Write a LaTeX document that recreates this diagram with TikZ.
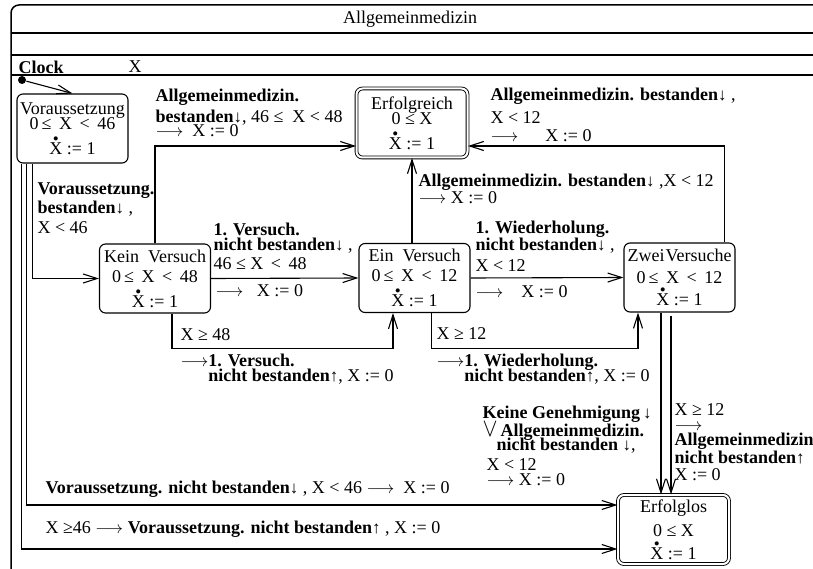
\documentclass[tikz,border=0pt]{standalone}
\usepackage{fontspec}
\setmainfont{Liberation Serif}
\usetikzlibrary{arrows.meta}

\newcommand{\arrdn}{\raisebox{0pt}{\fontsize{17}{17}\mdseries\selectfont ↓}}
\newcommand{\arrup}{\raisebox{0pt}{\fontsize{17}{17}\mdseries\selectfont ↑}}
\newcommand{\Xd}{\ooalign{X\cr\hidewidth\smash{\raisebox{10pt}{\fontsize{17}{17}\selectfont\textbullet}}\hidewidth\cr}}
\newcommand{\lto}{$\longrightarrow$}

\begin{document}
\begin{tikzpicture}[x=1pt,y=-1pt,line width=1.1pt,
    >={Straight Barb[length=14pt,width=9pt]},
    every node/.style={font=\fontsize{18}{16}\selectfont},
    state/.style={draw,rounded corners=6pt,minimum width=111pt,minimum height=69pt,
      inner sep=0pt,align=center,font=\fontsize{18}{18}\selectfont},
    final/.style={state,double,double distance=2pt,line width=0.9pt},
    lbl/.style={anchor=north west,inner sep=0pt,align=left}]
    \useasboundingbox (0,0) rectangle (813,569);
    \clip (0,0) rectangle (813,569);

    \draw[line width=1.5pt,rounded corners=8pt] (11,620) -- (11,5) -- (840,5);
    \draw (11,33) -- (813,33);
    \draw (11,55) -- (813,55);
    \draw[line width=1.5pt] (11,75) -- (813,75);
    \node (titel) at (410,19) {Allgemeinmedizin};
    \node[lbl] (clock) at (18,60) {\textbf{Clock}};
    \node[lbl] (clockx) at (128,60) {X};

    \node[circle,fill,inner sep=0pt,minimum size=8pt] (init) at (22,80) {};
    \node[state] (vor) at (72.5,128.5) {Voraussetzung\\[-3pt] 0\,≤\, X \,<\, 46\\[7pt] \Xd\ := 1};
    \node[final] (erf) at (412,123) {Erfolgreich\\[-3pt] 0 ≤ X\\[7pt] \Xd\ := 1};
    \node[state] (kein) at (155,278.5) {Kein\ \ Versuch\\[2pt] 0\,≤\, X \,<\, 48\\[7pt] \Xd\ := 1};
    \node[state] (ein) at (414.5,278) {Ein\ \ Versuch\\[2pt] 0\,≤\, X \,<\, 12\\[7pt] \Xd\ := 1};
    \node[state] (zwei) at (679.5,277.5) {Zwei\hspace{1pt}Versuche\\[4pt] 0\,≤\, X \,<\, 12\\[4pt] \Xd\ := 1};
    \node[final] (erfl) at (673.5,529.5) {Erfolglos\\[6pt] 0 ≤ X\\[5pt] \Xd\ := 1};

    \draw[->] (init) -- (vor.north);
    \draw[->] ([xshift=16pt]vor.south west) |- (kein.west);
    \draw[->] (kein.north) |- ([yshift=-23pt]erf.west);
    \draw[->] (kein.east) -- (ein.west);
    \draw[->] ([xshift=17pt]kein.south) -- ++(0,35) -| ([xshift=-21.5pt]ein.south);
    \draw[->] (erf.south |- ein.north) -- (erf.south);
    \draw[->] (ein.east) -- (zwei.west);
    \draw[->] ([xshift=17pt]ein.south) -- ++(0,35) -| ([xshift=-41.5pt]zwei.south);
    \draw[->] ([xshift=45pt]zwei.north) |- ([yshift=-23pt]erf.east);
    \coordinate (zl) at ([xshift=-18.5pt]zwei.south);
    \coordinate (zr) at ([xshift=-8.5pt,yshift=-3pt]zwei.south);
    \draw[->] (zl) -- (zl |- erfl.north);
    \draw[->] (zr) -- (zr |- erfl.north);
    \draw[->] ([xshift=10pt]vor.south west) |- ([yshift=24.5pt]erfl.west);
    \draw[->] ([xshift=5pt]vor.south west) |- ([yshift=-19.5pt]erfl.west);

    \node[lbl] (lA) at (37,182) {\textbf{Voraussetzung.}\\[2pt] \textbf{bestanden}\arrdn\ ,\\[4pt] X < 46};
    \node[lbl] (lB) at (155,88) {\textbf{Allgemeinmedizin.}\\[4pt] \textbf{bestanden}\arrdn, 46 ≤\ \ X < 48\\[-2pt] \lto\ \ X := 0};
    \node[lbl] (lC) at (213,222) {\textbf{1. Versuch.}\\[-1pt] \textbf{nicht bestanden}\arrdn\ ,\\[3pt] 46 ≤ X \,<\, 48};
    \node[lbl] (lC2) at (215,284) {\lto\ \ \ X := 0};
    \node[lbl] (lD) at (180,328) {X ≥ 48};
    \node[lbl] (lE) at (180,353) {\lto\textbf{1. Versuch.}\\[-1pt] \phantom{\lto}\textbf{nicht bestanden}\arrup, X := 0};
    \node[lbl] (lF) at (418,173) {\textbf{Allgemeinmedizin. bestanden}\arrdn\ ,X < 12\\[1pt] \lto\ X := 0};
    \node[lbl] (lG) at (475,220) {\textbf{1. Wiederholung.}\\ \textbf{nicht bestanden}\arrdn\ ,\\[5pt] X < 12};
    \node[lbl] (lG2) at (475,285) {\lto\ \ \ \ X := 0};
    \node[lbl] (lH) at (436,327) {X ≥ 12};
    \node[lbl] (lI) at (436,353) {\lto\textbf{1. Wiederholung.}\\[-2pt] \phantom{\lto}\textbf{nicht bestanden}\arrup, X := 0};
    \node[lbl] (lJ) at (490,87) {\textbf{Allgemeinmedizin. bestanden}\arrdn\ ,\\[7pt] X < 12\\[2pt] \lto\ \ \ \ \ \ X := 0};
    \node[lbl] (lK) at (482,405) {\textbf{Keine Genehmigung}\,\arrdn\\[-1pt] \scalebox{1.3}[1.5]{$\vee$}\,\textbf{Allgemeinmedizin.}\\[-3pt] \hspace{14pt}\textbf{nicht bestanden}\ \arrdn,\\[4pt] \hspace{4pt}X < 12\\[-1pt] \hspace{4pt}\lto\ X := 0};
    \node[lbl] (lL) at (674,403) {X ≥ 12\\[-1pt] \lto\\[-1pt] \textbf{Allgemeinmedizin.}\\[1pt] \textbf{nicht bestanden}\arrup\\[1pt] X := 0};
    \node[lbl] (lM) at (45,480) {\textbf{Voraussetzung. nicht bestanden}\arrdn\ , X < 46 \lto\ \ X := 0};
    \node[lbl] (lN) at (45,520) {X ≥46 \lto\ \textbf{Voraussetzung. nicht bestanden}\arrup\ , X := 0};
\end{tikzpicture}
\end{document}
